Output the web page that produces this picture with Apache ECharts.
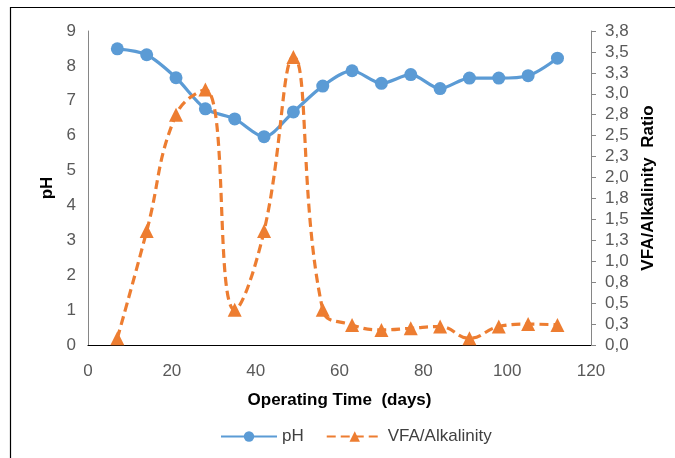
<!DOCTYPE html>
<html><head><meta charset="utf-8">
<script src="https://cdn.jsdelivr.net/npm/echarts@6/dist/echarts.min.js"></script>
<style>html,body{margin:0;padding:0;background:#fff}#c{width:675px;height:458px}</style>
</head><body><div id="c"></div>
<script>
const days = [7,14,21,28,35,42,49,56,63,70,77,84,91,98,105,112];
const phValues = [8.49,8.32,7.66,6.77,6.48,5.97,6.68,7.42,7.86,7.5,7.75,7.35,7.65,7.65,7.72,8.22];
const vfaValues = [0.08,1.36,2.75,3.05,0.42,1.36,3.44,0.42,0.24,0.18,0.2,0.22,0.08,0.22,0.25,0.24];
const xTicks = [0,20,40,60,80,100,120];
const phTicks = [0,1,2,3,4,5,6,7,8,9];
const ratioTicks = ['0,0','0,3','0,5','0,8','1,0','1,3','1,5','1,8','2,0','2,3','2,5','2,8','3,0','3,3','3,5','3,8'];

const chart = echarts.init(document.getElementById('c'));
const font = 'Liberation Sans, Arial, sans-serif';
chart.setOption({
  animation: false,
  graphic: [{type:'rect', shape:{x:10.5,y:7.5,width:700,height:500}, style:{fill:'none',stroke:'#000',lineWidth:1.2}, silent:true}],
  grid: {left: 88, right: 84, top: 31, bottom: 113},
  legend: {
    left: 215, top: 423, itemWidth: 56, itemHeight: 13, itemGap: 22,
    textStyle: {fontFamily: font, fontSize: 17, color: '#404040'},
    data: ['pH', 'VFA/Alkalinity']
  },
  xAxis: {
    type: 'value', min: 0, max: 120, interval: 20,
    name: 'Operating Time  (days)', nameLocation: 'middle', nameGap: 47,
    nameTextStyle: {fontFamily: font, fontSize: 17, fontWeight: 'bold', color: '#000'},
    axisLine: {lineStyle: {color: '#000', width: 1.2}},
    axisTick: {show: false}, splitLine: {show: false},
    axisLabel: {margin: 18, fontFamily: font, fontSize: 17, color: '#595959',
      formatter: v => xTicks.includes(v) ? String(v) : ''}
  },
  yAxis: [{
    type: 'value', min: 0, max: 9, interval: 1,
    name: 'pH', nameLocation: 'middle', nameGap: 31, nameRotate: 90,
    nameTextStyle: {fontFamily: font, fontSize: 17, fontWeight: 'bold', color: '#000'},
    axisLine: {show: true, lineStyle: {color: '#868686'}},
    axisTick: {show: false}, splitLine: {show: false},
    axisLabel: {margin: 12, fontFamily: font, fontSize: 17, color: '#595959',
      formatter: v => String(phTicks[Math.round(v)])}
  }, {
    type: 'value', min: 0, max: 3.75, interval: 0.25, position: 'right',
    name: 'VFA/Alkalinity  Ratio', nameLocation: 'middle', nameGap: 48, nameRotate: 90,
    nameTextStyle: {fontFamily: font, fontSize: 17, fontWeight: 'bold', color: '#000'},
    axisLine: {show: true, lineStyle: {color: '#868686'}},
    axisTick: {show: true, length: 5, lineStyle: {color: '#868686'}},
    splitLine: {show: false},
    axisLabel: {margin: 14, fontFamily: font, fontSize: 17, color: '#595959',
      formatter: v => ratioTicks[Math.round(v / 0.25)]}
  }],
  series: [{
    name: 'pH', type: 'line', yAxisIndex: 0, smooth: 0.3,
    data: days.map((d, i) => [d, phValues[i]]),
    symbol: 'circle', symbolSize: 13,
    lineStyle: {color: '#5B9BD5', width: 3.2},
    itemStyle: {color: '#5B9BD5'}
  }, {
    name: 'VFA/Alkalinity', type: 'line', yAxisIndex: 1, smooth: 0.45,
    data: days.map((d, i) => [d, vfaValues[i]]),
    symbol: 'triangle', symbolSize: 14,
    lineStyle: {color: '#ED7D31', width: 3.2, type: [9, 5]},
    itemStyle: {color: '#ED7D31'}
  }]
});
</script></body></html>
